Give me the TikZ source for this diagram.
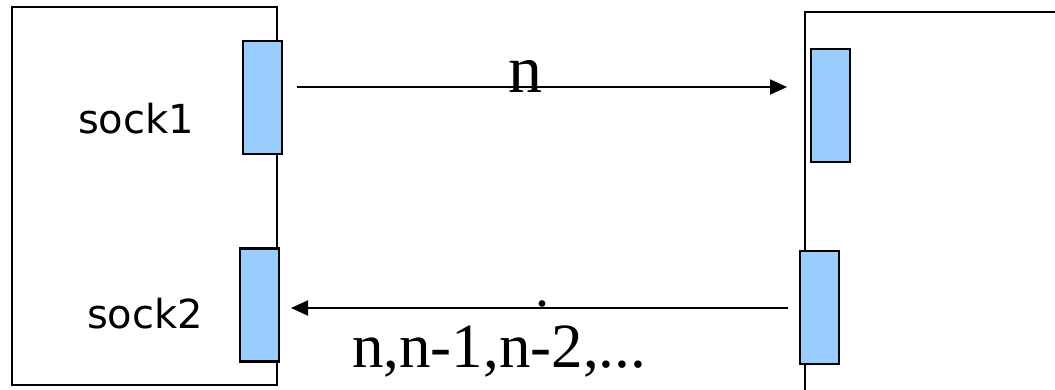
\documentclass[tikz,border=0pt]{standalone}
\usepackage{fontspec}
\setmainfont{Liberation Serif}
\newfontfamily\labelfont{DejaVu Sans}
\usetikzlibrary{arrows.meta,positioning}
\definecolor{sockblue}{RGB}{153,204,255}

\begin{document}
\begin{tikzpicture}[x=1pt,y=-1pt,>={Triangle[length=17pt,width=15pt]},
    hostbox/.style={draw,line width=2pt,inner sep=0pt},
    sockbox/.style={draw,line width=2.4pt,fill=sockblue,inner sep=0pt,minimum width=39pt,minimum height=113pt},
    msg/.style={->,line width=2pt},
    socktxt/.style={font=\labelfont\fontsize{40}{42}\selectfont,inner sep=0pt,anchor=base},
    numtxt/.style={inner sep=0pt,anchor=base}]
  \useasboundingbox (0,0) rectangle (1055,389);
  % the two hosts
  \node[hostbox,minimum width=265pt,minimum height=378pt] (hostA) at (144.5,196) {};
  \node[hostbox,minimum width=295pt,minimum height=408pt] (hostB) at (952.5,216) {};
  % sockets
  \node[sockbox] (sockA) at (262.5,97.5) {};
  \node[sockbox] (sockB) at (259.5,305) {};
  \node[sockbox] (sockC) at (830.5,105.5) {};
  \node[sockbox] (sockD) at (819.5,307.5) {};
  \node[socktxt] (nameA) at (136,133) {sock1};
  \node[socktxt] (nameB) at (145,328) {sock2};
  % messages
  \coordinate (outA) at (297,87);
  \coordinate (inC) at (787,87);
  \coordinate (outD) at (788,308);
  \coordinate (inB) at (291,308);
  \draw[msg] (outA) -- (inC);
  \draw[msg] (outD) -- (inB);
  \node[numtxt,font=\fontsize{68}{70}\selectfont] (valN) at (525,92) {n};
  \node[numtxt,font=\fontsize{56}{58}\selectfont] (dotD) at (542,306) {.};
  \node[numtxt,anchor=base west,font=\fontsize{63}{65}\selectfont] (valSeq) at (352,367) {n,n-1,n-2,...};
\end{tikzpicture}
\end{document}
